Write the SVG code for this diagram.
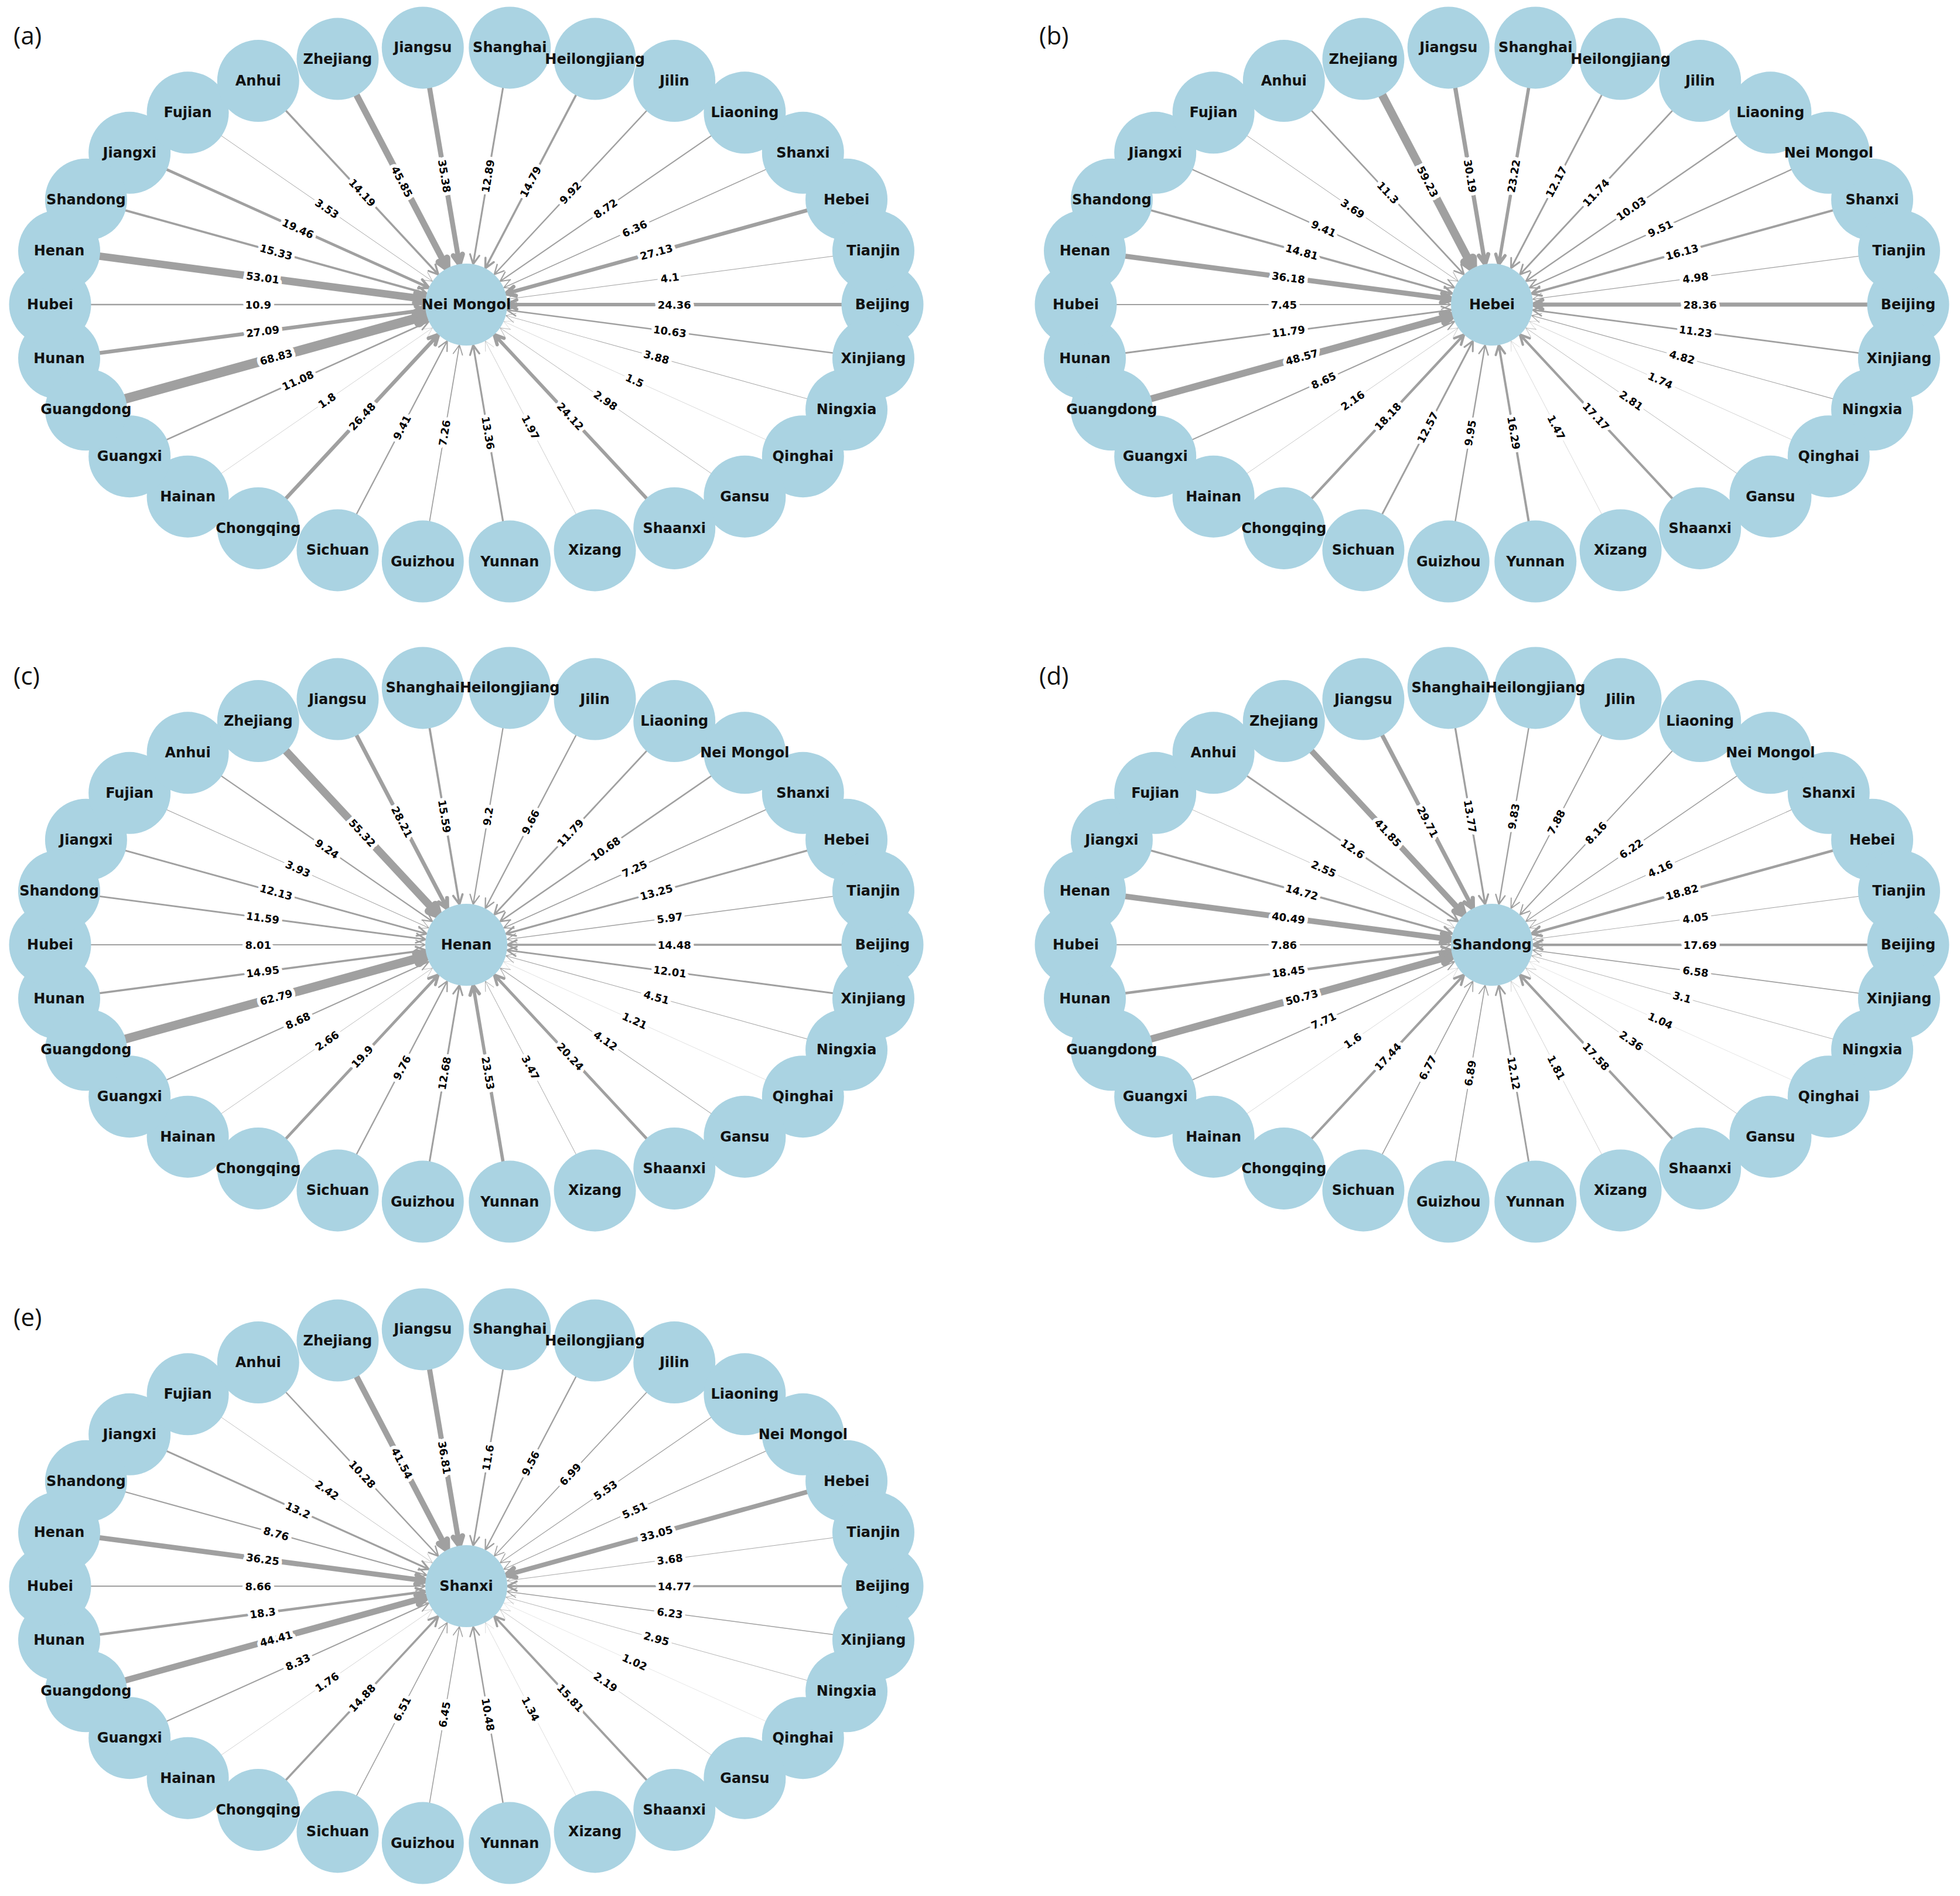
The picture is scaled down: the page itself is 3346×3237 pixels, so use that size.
<svg xmlns="http://www.w3.org/2000/svg" xmlns:xlink="http://www.w3.org/1999/xlink" width="3346" height="3237" viewBox="0 0 3346 3237">
<style>
.e{fill:none;stroke:#a0a0a0;stroke-linejoin:round;stroke-linecap:round}
.lb{font-family:'DejaVu Sans',sans-serif;font-weight:bold;font-size:18px;text-anchor:middle;dominant-baseline:central;fill:#000;stroke:#fff;stroke-width:12px;stroke-linejoin:round;paint-order:stroke}
.n circle{fill:#aad3e2}
.n text{font-family:'DejaVu Sans',sans-serif;font-weight:bold;font-size:24px;text-anchor:middle;dominant-baseline:central;fill:#111}
.pl{font-family:'Open Sans',sans-serif;font-size:42px;fill:#111}
</style>
<defs>
<path id="s0" d="M86-8 70 0 86 8M70 0H710.5"/>
<path id="s1" transform="rotate(7.52)" d="M86-8 70 0 86 8M70 0H701"/>
<path id="s2" transform="rotate(15.45)" d="M86-8 70 0 86 8M70 0H673.4"/>
<path id="s3" transform="rotate(24.27)" d="M86-8 70 0 86 8M70 0H630.6"/>
<path id="s4" transform="rotate(34.58)" d="M86-8 70 0 86 8M70 0H577.4"/>
<path id="s5" transform="rotate(47.07)" d="M86-8 70 0 86 8M70 0H521.6"/>
<path id="s6" transform="rotate(62.36)" d="M86-8 70 0 86 8M70 0H473.4"/>
<path id="s7" transform="rotate(80.39)" d="M86-8 70 0 86 8M70 0H444.8"/>
<path id="s8" transform="rotate(99.61)" d="M86-8 70 0 86 8M70 0H444.8"/>
<path id="s9" transform="rotate(117.64)" d="M86-8 70 0 86 8M70 0H473.4"/>
<path id="s10" transform="rotate(132.93)" d="M86-8 70 0 86 8M70 0H521.6"/>
<path id="s11" transform="rotate(145.42)" d="M86-8 70 0 86 8M70 0H577.4"/>
<path id="s12" transform="rotate(155.73)" d="M86-8 70 0 86 8M70 0H630.6"/>
<path id="s13" transform="rotate(164.55)" d="M86-8 70 0 86 8M70 0H673.4"/>
<path id="s14" transform="rotate(172.48)" d="M86-8 70 0 86 8M70 0H701"/>
<path id="s15" transform="rotate(180)" d="M86-8 70 0 86 8M70 0H710.5"/>
<path id="s16" transform="rotate(-172.48)" d="M86-8 70 0 86 8M70 0H701"/>
<path id="s17" transform="rotate(-164.55)" d="M86-8 70 0 86 8M70 0H673.4"/>
<path id="s18" transform="rotate(-155.73)" d="M86-8 70 0 86 8M70 0H630.6"/>
<path id="s19" transform="rotate(-145.42)" d="M86-8 70 0 86 8M70 0H577.4"/>
<path id="s20" transform="rotate(-132.93)" d="M86-8 70 0 86 8M70 0H521.6"/>
<path id="s21" transform="rotate(-117.64)" d="M86-8 70 0 86 8M70 0H473.4"/>
<path id="s22" transform="rotate(-99.61)" d="M86-8 70 0 86 8M70 0H444.8"/>
<path id="s23" transform="rotate(-80.39)" d="M86-8 70 0 86 8M70 0H444.8"/>
<path id="s24" transform="rotate(-62.36)" d="M86-8 70 0 86 8M70 0H473.4"/>
<path id="s25" transform="rotate(-47.07)" d="M86-8 70 0 86 8M70 0H521.6"/>
<path id="s26" transform="rotate(-34.58)" d="M86-8 70 0 86 8M70 0H577.4"/>
<path id="s27" transform="rotate(-24.27)" d="M86-8 70 0 86 8M70 0H630.6"/>
<path id="s28" transform="rotate(-15.45)" d="M86-8 70 0 86 8M70 0H673.4"/>
<path id="s29" transform="rotate(-7.52)" d="M86-8 70 0 86 8M70 0H701"/>
</defs>
<rect width="3346" height="3237" fill="#fff"/>
<text class="pl" x="23" y="76">(a)</text>
<text class="pl" x="1774" y="76">(b)</text>
<text class="pl" x="23" y="1169">(c)</text>
<text class="pl" x="1774" y="1169">(d)</text>
<text class="pl" x="23" y="2264">(e)</text>

<g id="panel-a" transform="translate(796 520)">
<g id="a-connectors" class="e">
<use href="#s0" stroke-width="5.85"/><use href="#s1" stroke-width="2.55"/><use href="#s2" stroke-width="0.93"/><use href="#s3" stroke-width="0.36"/><use href="#s4" stroke-width="0.72"/><use href="#s5" stroke-width="5.79"/><use href="#s6" stroke-width="0.47"/><use href="#s7" stroke-width="3.21"/><use href="#s8" stroke-width="1.74"/><use href="#s9" stroke-width="2.26"/><use href="#s10" stroke-width="6.36"/><use href="#s11" stroke-width="0.43"/><use href="#s12" stroke-width="2.66"/><use href="#s13" stroke-width="16.52"/><use href="#s14" stroke-width="6.5"/><use href="#s15" stroke-width="2.62"/><use href="#s16" stroke-width="12.72"/><use href="#s17" stroke-width="3.68"/><use href="#s18" stroke-width="4.67"/><use href="#s19" stroke-width="0.85"/><use href="#s20" stroke-width="3.41"/><use href="#s21" stroke-width="11"/><use href="#s22" stroke-width="8.49"/><use href="#s23" stroke-width="3.09"/><use href="#s24" stroke-width="3.55"/><use href="#s25" stroke-width="2.38"/><use href="#s26" stroke-width="2.09"/><use href="#s27" stroke-width="1.53"/><use href="#s28" stroke-width="6.51"/><use href="#s29" stroke-width="0.98"/>
<g class="lbs">
<text class="lb" transform="translate(355.25 0)">24.36</text>
<text class="lb" transform="translate(347.49 45.85) rotate(7.52)">10.63</text>
<text class="lb" transform="translate(324.54 89.69) rotate(15.45)">3.88</text>
<text class="lb" transform="translate(287.41 129.61) rotate(24.27)">1.5</text>
<text class="lb" transform="translate(237.71 163.86) rotate(34.58)">2.98</text>
<text class="lb" transform="translate(177.63 190.96) rotate(47.07)">24.12</text>
<text class="lb" transform="translate(109.78 209.71) rotate(62.36)">1.97</text>
<text class="lb" transform="translate(37.14 219.29) rotate(80.39)">13.36</text>
<text class="lb" transform="translate(-37.14 219.29) rotate(-80.39)">7.26</text>
<text class="lb" transform="translate(-109.78 209.71) rotate(-62.36)">9.41</text>
<text class="lb" transform="translate(-177.63 190.96) rotate(-47.07)">26.48</text>
<text class="lb" transform="translate(-237.71 163.86) rotate(-34.58)">1.8</text>
<text class="lb" transform="translate(-287.41 129.61) rotate(-24.27)">11.08</text>
<text class="lb" transform="translate(-324.54 89.69) rotate(-15.45)">68.83</text>
<text class="lb" transform="translate(-347.49 45.85) rotate(-7.52)">27.09</text>
<text class="lb" transform="translate(-355.25 0)">10.9</text>
<text class="lb" transform="translate(-347.49 -45.85) rotate(7.52)">53.01</text>
<text class="lb" transform="translate(-324.54 -89.69) rotate(15.45)">15.33</text>
<text class="lb" transform="translate(-287.41 -129.61) rotate(24.27)">19.46</text>
<text class="lb" transform="translate(-237.71 -163.86) rotate(34.58)">3.53</text>
<text class="lb" transform="translate(-177.63 -190.96) rotate(47.07)">14.19</text>
<text class="lb" transform="translate(-109.78 -209.71) rotate(62.36)">45.85</text>
<text class="lb" transform="translate(-37.14 -219.29) rotate(80.39)">35.38</text>
<text class="lb" transform="translate(37.14 -219.29) rotate(-80.39)">12.89</text>
<text class="lb" transform="translate(109.78 -209.71) rotate(-62.36)">14.79</text>
<text class="lb" transform="translate(177.63 -190.96) rotate(-47.07)">9.92</text>
<text class="lb" transform="translate(237.71 -163.86) rotate(-34.58)">8.72</text>
<text class="lb" transform="translate(287.41 -129.61) rotate(-24.27)">6.36</text>
<text class="lb" transform="translate(324.54 -89.69) rotate(-15.45)">27.13</text>
<text class="lb" transform="translate(347.49 -45.85) rotate(-7.52)">4.1</text>
</g>
</g>
<g id="a-Beijing" class="n" transform="translate(710.5 0)"><circle r="70"/><text>Beijing</text></g>
<g id="a-Xinjiang" class="n" transform="translate(694.98 91.69)"><circle r="70"/><text>Xinjiang</text></g>
<g id="a-Ningxia" class="n" transform="translate(649.08 179.37)"><circle r="70"/><text>Ningxia</text></g>
<g id="a-Qinghai" class="n" transform="translate(574.81 259.22)"><circle r="70"/><text>Qinghai</text></g>
<g id="a-Gansu" class="n" transform="translate(475.42 327.72)"><circle r="70"/><text>Gansu</text></g>
<g id="a-Shaanxi" class="n" transform="translate(355.25 381.92)"><circle r="70"/><text>Shaanxi</text></g>
<g id="a-Xizang" class="n" transform="translate(219.56 419.42)"><circle r="70"/><text>Xizang</text></g>
<g id="a-Yunnan" class="n" transform="translate(74.27 438.58)"><circle r="70"/><text>Yunnan</text></g>
<g id="a-Guizhou" class="n" transform="translate(-74.27 438.58)"><circle r="70"/><text>Guizhou</text></g>
<g id="a-Sichuan" class="n" transform="translate(-219.56 419.42)"><circle r="70"/><text>Sichuan</text></g>
<g id="a-Hainan" class="n" transform="translate(-475.42 327.72)"><circle r="70"/><text>Hainan</text></g>
<g id="a-Guangxi" class="n" transform="translate(-574.81 259.22)"><circle r="70"/><text>Guangxi</text></g>
<g id="a-Hunan" class="n" transform="translate(-694.98 91.69)"><circle r="70"/><text>Hunan</text></g>
<g id="a-Hubei" class="n" transform="translate(-710.5 0)"><circle r="70"/><text>Hubei</text></g>
<g id="a-Henan" class="n" transform="translate(-694.98 -91.69)"><circle r="70"/><text>Henan</text></g>
<g id="a-Jiangxi" class="n" transform="translate(-574.81 -259.22)"><circle r="70"/><text>Jiangxi</text></g>
<g id="a-Fujian" class="n" transform="translate(-475.42 -327.72)"><circle r="70"/><text>Fujian</text></g>
<g id="a-Anhui" class="n" transform="translate(-355.25 -381.92)"><circle r="70"/><text>Anhui</text></g>
<g id="a-Jiangsu" class="n" transform="translate(-74.27 -438.58)"><circle r="70"/><text>Jiangsu</text></g>
<g id="a-Jilin" class="n" transform="translate(355.25 -381.92)"><circle r="70"/><text>Jilin</text></g>
<g id="a-Shanxi" class="n" transform="translate(574.81 -259.22)"><circle r="70"/><text>Shanxi</text></g>
<g id="a-Hebei" class="n" transform="translate(649.08 -179.37)"><circle r="70"/><text>Hebei</text></g>
<g id="a-Tianjin" class="n" transform="translate(694.98 -91.69)"><circle r="70"/><text>Tianjin</text></g>
<g id="a-Zhejiang" class="n" transform="translate(-219.56 -419.42)"><circle r="70"/><text>Zhejiang</text></g>
<g id="a-Shandong" class="n" transform="translate(-649.08 -179.37)"><circle r="70"/><text>Shandong</text></g>
<g id="a-Shanghai" class="n" transform="translate(74.27 -438.58)"><circle r="70"/><text>Shanghai</text></g>
<g id="a-Liaoning" class="n" transform="translate(475.42 -327.72)"><circle r="70"/><text>Liaoning</text></g>
<g id="a-Chongqing" class="n" transform="translate(-355.25 381.92)"><circle r="70"/><text>Chongqing</text></g>
<g id="a-Guangdong" class="n" transform="translate(-649.08 179.37)"><circle r="70"/><text>Guangdong</text></g>
<g id="a-Heilongjiang" class="n" transform="translate(219.56 -419.42)"><circle r="70"/><text>Heilongjiang</text></g>
<g id="a-Nei-Mongol" class="n"><circle r="70"/><text>Nei Mongol</text></g>
</g>

<g id="panel-b" transform="translate(2547 520)">
<g id="b-connectors" class="e">
<use href="#s0" stroke-width="6.81"/><use href="#s1" stroke-width="2.7"/><use href="#s2" stroke-width="1.16"/><use href="#s3" stroke-width="0.42"/><use href="#s4" stroke-width="0.67"/><use href="#s5" stroke-width="4.12"/><use href="#s6" stroke-width="0.35"/><use href="#s7" stroke-width="3.91"/><use href="#s8" stroke-width="2.39"/><use href="#s9" stroke-width="3.02"/><use href="#s10" stroke-width="4.36"/><use href="#s11" stroke-width="0.52"/><use href="#s12" stroke-width="2.08"/><use href="#s13" stroke-width="11.66"/><use href="#s14" stroke-width="2.83"/><use href="#s15" stroke-width="1.79"/><use href="#s16" stroke-width="8.68"/><use href="#s17" stroke-width="3.55"/><use href="#s18" stroke-width="2.26"/><use href="#s19" stroke-width="0.89"/><use href="#s20" stroke-width="2.71"/><use href="#s21" stroke-width="14.22"/><use href="#s22" stroke-width="7.25"/><use href="#s23" stroke-width="5.57"/><use href="#s24" stroke-width="2.92"/><use href="#s25" stroke-width="2.82"/><use href="#s26" stroke-width="2.41"/><use href="#s27" stroke-width="2.28"/><use href="#s28" stroke-width="3.87"/><use href="#s29" stroke-width="1.2"/>
<g class="lbs">
<text class="lb" transform="translate(355.25 0)">28.36</text>
<text class="lb" transform="translate(347.49 45.85) rotate(7.52)">11.23</text>
<text class="lb" transform="translate(324.54 89.69) rotate(15.45)">4.82</text>
<text class="lb" transform="translate(287.41 129.61) rotate(24.27)">1.74</text>
<text class="lb" transform="translate(237.71 163.86) rotate(34.58)">2.81</text>
<text class="lb" transform="translate(177.63 190.96) rotate(47.07)">17.17</text>
<text class="lb" transform="translate(109.78 209.71) rotate(62.36)">1.47</text>
<text class="lb" transform="translate(37.14 219.29) rotate(80.39)">16.29</text>
<text class="lb" transform="translate(-37.14 219.29) rotate(-80.39)">9.95</text>
<text class="lb" transform="translate(-109.78 209.71) rotate(-62.36)">12.57</text>
<text class="lb" transform="translate(-177.63 190.96) rotate(-47.07)">18.18</text>
<text class="lb" transform="translate(-237.71 163.86) rotate(-34.58)">2.16</text>
<text class="lb" transform="translate(-287.41 129.61) rotate(-24.27)">8.65</text>
<text class="lb" transform="translate(-324.54 89.69) rotate(-15.45)">48.57</text>
<text class="lb" transform="translate(-347.49 45.85) rotate(-7.52)">11.79</text>
<text class="lb" transform="translate(-355.25 0)">7.45</text>
<text class="lb" transform="translate(-347.49 -45.85) rotate(7.52)">36.18</text>
<text class="lb" transform="translate(-324.54 -89.69) rotate(15.45)">14.81</text>
<text class="lb" transform="translate(-287.41 -129.61) rotate(24.27)">9.41</text>
<text class="lb" transform="translate(-237.71 -163.86) rotate(34.58)">3.69</text>
<text class="lb" transform="translate(-177.63 -190.96) rotate(47.07)">11.3</text>
<text class="lb" transform="translate(-109.78 -209.71) rotate(62.36)">59.23</text>
<text class="lb" transform="translate(-37.14 -219.29) rotate(80.39)">30.19</text>
<text class="lb" transform="translate(37.14 -219.29) rotate(-80.39)">23.22</text>
<text class="lb" transform="translate(109.78 -209.71) rotate(-62.36)">12.17</text>
<text class="lb" transform="translate(177.63 -190.96) rotate(-47.07)">11.74</text>
<text class="lb" transform="translate(237.71 -163.86) rotate(-34.58)">10.03</text>
<text class="lb" transform="translate(287.41 -129.61) rotate(-24.27)">9.51</text>
<text class="lb" transform="translate(324.54 -89.69) rotate(-15.45)">16.13</text>
<text class="lb" transform="translate(347.49 -45.85) rotate(-7.52)">4.98</text>
</g>
</g>
<g id="b-Beijing" class="n" transform="translate(710.5 0)"><circle r="70"/><text>Beijing</text></g>
<g id="b-Xinjiang" class="n" transform="translate(694.98 91.69)"><circle r="70"/><text>Xinjiang</text></g>
<g id="b-Ningxia" class="n" transform="translate(649.08 179.37)"><circle r="70"/><text>Ningxia</text></g>
<g id="b-Qinghai" class="n" transform="translate(574.81 259.22)"><circle r="70"/><text>Qinghai</text></g>
<g id="b-Gansu" class="n" transform="translate(475.42 327.72)"><circle r="70"/><text>Gansu</text></g>
<g id="b-Shaanxi" class="n" transform="translate(355.25 381.92)"><circle r="70"/><text>Shaanxi</text></g>
<g id="b-Xizang" class="n" transform="translate(219.56 419.42)"><circle r="70"/><text>Xizang</text></g>
<g id="b-Yunnan" class="n" transform="translate(74.27 438.58)"><circle r="70"/><text>Yunnan</text></g>
<g id="b-Guizhou" class="n" transform="translate(-74.27 438.58)"><circle r="70"/><text>Guizhou</text></g>
<g id="b-Sichuan" class="n" transform="translate(-219.56 419.42)"><circle r="70"/><text>Sichuan</text></g>
<g id="b-Hainan" class="n" transform="translate(-475.42 327.72)"><circle r="70"/><text>Hainan</text></g>
<g id="b-Guangxi" class="n" transform="translate(-574.81 259.22)"><circle r="70"/><text>Guangxi</text></g>
<g id="b-Hunan" class="n" transform="translate(-694.98 91.69)"><circle r="70"/><text>Hunan</text></g>
<g id="b-Hubei" class="n" transform="translate(-710.5 0)"><circle r="70"/><text>Hubei</text></g>
<g id="b-Henan" class="n" transform="translate(-694.98 -91.69)"><circle r="70"/><text>Henan</text></g>
<g id="b-Jiangxi" class="n" transform="translate(-574.81 -259.22)"><circle r="70"/><text>Jiangxi</text></g>
<g id="b-Fujian" class="n" transform="translate(-475.42 -327.72)"><circle r="70"/><text>Fujian</text></g>
<g id="b-Anhui" class="n" transform="translate(-355.25 -381.92)"><circle r="70"/><text>Anhui</text></g>
<g id="b-Jiangsu" class="n" transform="translate(-74.27 -438.58)"><circle r="70"/><text>Jiangsu</text></g>
<g id="b-Jilin" class="n" transform="translate(355.25 -381.92)"><circle r="70"/><text>Jilin</text></g>
<g id="b-Shanxi" class="n" transform="translate(649.08 -179.37)"><circle r="70"/><text>Shanxi</text></g>
<g id="b-Tianjin" class="n" transform="translate(694.98 -91.69)"><circle r="70"/><text>Tianjin</text></g>
<g id="b-Zhejiang" class="n" transform="translate(-219.56 -419.42)"><circle r="70"/><text>Zhejiang</text></g>
<g id="b-Shandong" class="n" transform="translate(-649.08 -179.37)"><circle r="70"/><text>Shandong</text></g>
<g id="b-Shanghai" class="n" transform="translate(74.27 -438.58)"><circle r="70"/><text>Shanghai</text></g>
<g id="b-Liaoning" class="n" transform="translate(475.42 -327.72)"><circle r="70"/><text>Liaoning</text></g>
<g id="b-Chongqing" class="n" transform="translate(-355.25 381.92)"><circle r="70"/><text>Chongqing</text></g>
<g id="b-Guangdong" class="n" transform="translate(-649.08 179.37)"><circle r="70"/><text>Guangdong</text></g>
<g id="b-Nei-Mongol" class="n" transform="translate(574.81 -259.22)"><circle r="70"/><text>Nei Mongol</text></g>
<g id="b-Heilongjiang" class="n" transform="translate(219.56 -419.42)"><circle r="70"/><text>Heilongjiang</text></g>
<g id="b-Hebei" class="n"><circle r="70"/><text>Hebei</text></g>
</g>

<g id="panel-c" transform="translate(796 1613)">
<g id="c-connectors" class="e">
<use href="#s0" stroke-width="3.48"/><use href="#s1" stroke-width="2.88"/><use href="#s2" stroke-width="1.08"/><use href="#s3" stroke-width="0.29"/><use href="#s4" stroke-width="0.99"/><use href="#s5" stroke-width="4.86"/><use href="#s6" stroke-width="0.83"/><use href="#s7" stroke-width="5.65"/><use href="#s8" stroke-width="3.04"/><use href="#s9" stroke-width="2.34"/><use href="#s10" stroke-width="4.78"/><use href="#s11" stroke-width="0.64"/><use href="#s12" stroke-width="2.08"/><use href="#s13" stroke-width="15.07"/><use href="#s14" stroke-width="3.59"/><use href="#s15" stroke-width="1.92"/><use href="#s16" stroke-width="2.78"/><use href="#s17" stroke-width="2.91"/><use href="#s18" stroke-width="0.94"/><use href="#s19" stroke-width="2.22"/><use href="#s20" stroke-width="13.28"/><use href="#s21" stroke-width="6.77"/><use href="#s22" stroke-width="3.74"/><use href="#s23" stroke-width="2.21"/><use href="#s24" stroke-width="2.32"/><use href="#s25" stroke-width="2.83"/><use href="#s26" stroke-width="2.56"/><use href="#s27" stroke-width="1.74"/><use href="#s28" stroke-width="3.18"/><use href="#s29" stroke-width="1.43"/>
<g class="lbs">
<text class="lb" transform="translate(355.25 0)">14.48</text>
<text class="lb" transform="translate(347.49 45.85) rotate(7.52)">12.01</text>
<text class="lb" transform="translate(324.54 89.69) rotate(15.45)">4.51</text>
<text class="lb" transform="translate(287.41 129.61) rotate(24.27)">1.21</text>
<text class="lb" transform="translate(237.71 163.86) rotate(34.58)">4.12</text>
<text class="lb" transform="translate(177.63 190.96) rotate(47.07)">20.24</text>
<text class="lb" transform="translate(109.78 209.71) rotate(62.36)">3.47</text>
<text class="lb" transform="translate(37.14 219.29) rotate(80.39)">23.53</text>
<text class="lb" transform="translate(-37.14 219.29) rotate(-80.39)">12.68</text>
<text class="lb" transform="translate(-109.78 209.71) rotate(-62.36)">9.76</text>
<text class="lb" transform="translate(-177.63 190.96) rotate(-47.07)">19.9</text>
<text class="lb" transform="translate(-237.71 163.86) rotate(-34.58)">2.66</text>
<text class="lb" transform="translate(-287.41 129.61) rotate(-24.27)">8.68</text>
<text class="lb" transform="translate(-324.54 89.69) rotate(-15.45)">62.79</text>
<text class="lb" transform="translate(-347.49 45.85) rotate(-7.52)">14.95</text>
<text class="lb" transform="translate(-355.25 0)">8.01</text>
<text class="lb" transform="translate(-347.49 -45.85) rotate(7.52)">11.59</text>
<text class="lb" transform="translate(-324.54 -89.69) rotate(15.45)">12.13</text>
<text class="lb" transform="translate(-287.41 -129.61) rotate(24.27)">3.93</text>
<text class="lb" transform="translate(-237.71 -163.86) rotate(34.58)">9.24</text>
<text class="lb" transform="translate(-177.63 -190.96) rotate(47.07)">55.32</text>
<text class="lb" transform="translate(-109.78 -209.71) rotate(62.36)">28.21</text>
<text class="lb" transform="translate(-37.14 -219.29) rotate(80.39)">15.59</text>
<text class="lb" transform="translate(37.14 -219.29) rotate(-80.39)">9.2</text>
<text class="lb" transform="translate(109.78 -209.71) rotate(-62.36)">9.66</text>
<text class="lb" transform="translate(177.63 -190.96) rotate(-47.07)">11.79</text>
<text class="lb" transform="translate(237.71 -163.86) rotate(-34.58)">10.68</text>
<text class="lb" transform="translate(287.41 -129.61) rotate(-24.27)">7.25</text>
<text class="lb" transform="translate(324.54 -89.69) rotate(-15.45)">13.25</text>
<text class="lb" transform="translate(347.49 -45.85) rotate(-7.52)">5.97</text>
</g>
</g>
<g id="c-Beijing" class="n" transform="translate(710.5 0)"><circle r="70"/><text>Beijing</text></g>
<g id="c-Xinjiang" class="n" transform="translate(694.98 91.69)"><circle r="70"/><text>Xinjiang</text></g>
<g id="c-Ningxia" class="n" transform="translate(649.08 179.37)"><circle r="70"/><text>Ningxia</text></g>
<g id="c-Qinghai" class="n" transform="translate(574.81 259.22)"><circle r="70"/><text>Qinghai</text></g>
<g id="c-Gansu" class="n" transform="translate(475.42 327.72)"><circle r="70"/><text>Gansu</text></g>
<g id="c-Shaanxi" class="n" transform="translate(355.25 381.92)"><circle r="70"/><text>Shaanxi</text></g>
<g id="c-Xizang" class="n" transform="translate(219.56 419.42)"><circle r="70"/><text>Xizang</text></g>
<g id="c-Yunnan" class="n" transform="translate(74.27 438.58)"><circle r="70"/><text>Yunnan</text></g>
<g id="c-Guizhou" class="n" transform="translate(-74.27 438.58)"><circle r="70"/><text>Guizhou</text></g>
<g id="c-Sichuan" class="n" transform="translate(-219.56 419.42)"><circle r="70"/><text>Sichuan</text></g>
<g id="c-Hainan" class="n" transform="translate(-475.42 327.72)"><circle r="70"/><text>Hainan</text></g>
<g id="c-Guangxi" class="n" transform="translate(-574.81 259.22)"><circle r="70"/><text>Guangxi</text></g>
<g id="c-Hunan" class="n" transform="translate(-694.98 91.69)"><circle r="70"/><text>Hunan</text></g>
<g id="c-Hubei" class="n" transform="translate(-710.5 0)"><circle r="70"/><text>Hubei</text></g>
<g id="c-Jiangxi" class="n" transform="translate(-649.08 -179.37)"><circle r="70"/><text>Jiangxi</text></g>
<g id="c-Fujian" class="n" transform="translate(-574.81 -259.22)"><circle r="70"/><text>Fujian</text></g>
<g id="c-Anhui" class="n" transform="translate(-475.42 -327.72)"><circle r="70"/><text>Anhui</text></g>
<g id="c-Jiangsu" class="n" transform="translate(-219.56 -419.42)"><circle r="70"/><text>Jiangsu</text></g>
<g id="c-Jilin" class="n" transform="translate(219.56 -419.42)"><circle r="70"/><text>Jilin</text></g>
<g id="c-Shanxi" class="n" transform="translate(574.81 -259.22)"><circle r="70"/><text>Shanxi</text></g>
<g id="c-Hebei" class="n" transform="translate(649.08 -179.37)"><circle r="70"/><text>Hebei</text></g>
<g id="c-Tianjin" class="n" transform="translate(694.98 -91.69)"><circle r="70"/><text>Tianjin</text></g>
<g id="c-Shandong" class="n" transform="translate(-694.98 -91.69)"><circle r="70"/><text>Shandong</text></g>
<g id="c-Zhejiang" class="n" transform="translate(-355.25 -381.92)"><circle r="70"/><text>Zhejiang</text></g>
<g id="c-Liaoning" class="n" transform="translate(355.25 -381.92)"><circle r="70"/><text>Liaoning</text></g>
<g id="c-Chongqing" class="n" transform="translate(-355.25 381.92)"><circle r="70"/><text>Chongqing</text></g>
<g id="c-Guangdong" class="n" transform="translate(-649.08 179.37)"><circle r="70"/><text>Guangdong</text></g>
<g id="c-Nei-Mongol" class="n" transform="translate(475.42 -327.72)"><circle r="70"/><text>Nei Mongol</text></g>
<g id="c-Shanghai" class="n" transform="translate(-74.27 -438.58)"><circle r="70"/><text>Shanghai</text></g>
<g id="c-Heilongjiang" class="n" transform="translate(74.27 -438.58)"><circle r="70"/><text>Heilongjiang</text></g>
<g id="c-Henan" class="n"><circle r="70"/><text>Henan</text></g>
</g>

<g id="panel-d" transform="translate(2547 1613)">
<g id="d-connectors" class="e">
<use href="#s0" stroke-width="4.25"/><use href="#s1" stroke-width="1.58"/><use href="#s2" stroke-width="0.74"/><use href="#s3" stroke-width="0.25"/><use href="#s4" stroke-width="0.57"/><use href="#s5" stroke-width="4.22"/><use href="#s6" stroke-width="0.43"/><use href="#s7" stroke-width="2.91"/><use href="#s8" stroke-width="1.65"/><use href="#s9" stroke-width="1.62"/><use href="#s10" stroke-width="4.19"/><use href="#s11" stroke-width="0.38"/><use href="#s12" stroke-width="1.85"/><use href="#s13" stroke-width="12.18"/><use href="#s14" stroke-width="4.43"/><use href="#s15" stroke-width="1.89"/><use href="#s16" stroke-width="9.72"/><use href="#s17" stroke-width="3.53"/><use href="#s18" stroke-width="0.61"/><use href="#s19" stroke-width="3.02"/><use href="#s20" stroke-width="10.04"/><use href="#s21" stroke-width="7.13"/><use href="#s22" stroke-width="3.3"/><use href="#s23" stroke-width="2.36"/><use href="#s24" stroke-width="1.89"/><use href="#s25" stroke-width="1.96"/><use href="#s26" stroke-width="1.49"/><use href="#s27" stroke-width="1"/><use href="#s28" stroke-width="4.52"/><use href="#s29" stroke-width="0.97"/>
<g class="lbs">
<text class="lb" transform="translate(355.25 0)">17.69</text>
<text class="lb" transform="translate(347.49 45.85) rotate(7.52)">6.58</text>
<text class="lb" transform="translate(324.54 89.69) rotate(15.45)">3.1</text>
<text class="lb" transform="translate(287.41 129.61) rotate(24.27)">1.04</text>
<text class="lb" transform="translate(237.71 163.86) rotate(34.58)">2.36</text>
<text class="lb" transform="translate(177.63 190.96) rotate(47.07)">17.58</text>
<text class="lb" transform="translate(109.78 209.71) rotate(62.36)">1.81</text>
<text class="lb" transform="translate(37.14 219.29) rotate(80.39)">12.12</text>
<text class="lb" transform="translate(-37.14 219.29) rotate(-80.39)">6.89</text>
<text class="lb" transform="translate(-109.78 209.71) rotate(-62.36)">6.77</text>
<text class="lb" transform="translate(-177.63 190.96) rotate(-47.07)">17.44</text>
<text class="lb" transform="translate(-237.71 163.86) rotate(-34.58)">1.6</text>
<text class="lb" transform="translate(-287.41 129.61) rotate(-24.27)">7.71</text>
<text class="lb" transform="translate(-324.54 89.69) rotate(-15.45)">50.73</text>
<text class="lb" transform="translate(-347.49 45.85) rotate(-7.52)">18.45</text>
<text class="lb" transform="translate(-355.25 0)">7.86</text>
<text class="lb" transform="translate(-347.49 -45.85) rotate(7.52)">40.49</text>
<text class="lb" transform="translate(-324.54 -89.69) rotate(15.45)">14.72</text>
<text class="lb" transform="translate(-287.41 -129.61) rotate(24.27)">2.55</text>
<text class="lb" transform="translate(-237.71 -163.86) rotate(34.58)">12.6</text>
<text class="lb" transform="translate(-177.63 -190.96) rotate(47.07)">41.85</text>
<text class="lb" transform="translate(-109.78 -209.71) rotate(62.36)">29.71</text>
<text class="lb" transform="translate(-37.14 -219.29) rotate(80.39)">13.77</text>
<text class="lb" transform="translate(37.14 -219.29) rotate(-80.39)">9.83</text>
<text class="lb" transform="translate(109.78 -209.71) rotate(-62.36)">7.88</text>
<text class="lb" transform="translate(177.63 -190.96) rotate(-47.07)">8.16</text>
<text class="lb" transform="translate(237.71 -163.86) rotate(-34.58)">6.22</text>
<text class="lb" transform="translate(287.41 -129.61) rotate(-24.27)">4.16</text>
<text class="lb" transform="translate(324.54 -89.69) rotate(-15.45)">18.82</text>
<text class="lb" transform="translate(347.49 -45.85) rotate(-7.52)">4.05</text>
</g>
</g>
<g id="d-Beijing" class="n" transform="translate(710.5 0)"><circle r="70"/><text>Beijing</text></g>
<g id="d-Xinjiang" class="n" transform="translate(694.98 91.69)"><circle r="70"/><text>Xinjiang</text></g>
<g id="d-Ningxia" class="n" transform="translate(649.08 179.37)"><circle r="70"/><text>Ningxia</text></g>
<g id="d-Qinghai" class="n" transform="translate(574.81 259.22)"><circle r="70"/><text>Qinghai</text></g>
<g id="d-Gansu" class="n" transform="translate(475.42 327.72)"><circle r="70"/><text>Gansu</text></g>
<g id="d-Shaanxi" class="n" transform="translate(355.25 381.92)"><circle r="70"/><text>Shaanxi</text></g>
<g id="d-Xizang" class="n" transform="translate(219.56 419.42)"><circle r="70"/><text>Xizang</text></g>
<g id="d-Yunnan" class="n" transform="translate(74.27 438.58)"><circle r="70"/><text>Yunnan</text></g>
<g id="d-Guizhou" class="n" transform="translate(-74.27 438.58)"><circle r="70"/><text>Guizhou</text></g>
<g id="d-Sichuan" class="n" transform="translate(-219.56 419.42)"><circle r="70"/><text>Sichuan</text></g>
<g id="d-Hainan" class="n" transform="translate(-475.42 327.72)"><circle r="70"/><text>Hainan</text></g>
<g id="d-Guangxi" class="n" transform="translate(-574.81 259.22)"><circle r="70"/><text>Guangxi</text></g>
<g id="d-Hunan" class="n" transform="translate(-694.98 91.69)"><circle r="70"/><text>Hunan</text></g>
<g id="d-Hubei" class="n" transform="translate(-710.5 0)"><circle r="70"/><text>Hubei</text></g>
<g id="d-Henan" class="n" transform="translate(-694.98 -91.69)"><circle r="70"/><text>Henan</text></g>
<g id="d-Jiangxi" class="n" transform="translate(-649.08 -179.37)"><circle r="70"/><text>Jiangxi</text></g>
<g id="d-Fujian" class="n" transform="translate(-574.81 -259.22)"><circle r="70"/><text>Fujian</text></g>
<g id="d-Anhui" class="n" transform="translate(-475.42 -327.72)"><circle r="70"/><text>Anhui</text></g>
<g id="d-Jiangsu" class="n" transform="translate(-219.56 -419.42)"><circle r="70"/><text>Jiangsu</text></g>
<g id="d-Jilin" class="n" transform="translate(219.56 -419.42)"><circle r="70"/><text>Jilin</text></g>
<g id="d-Shanxi" class="n" transform="translate(574.81 -259.22)"><circle r="70"/><text>Shanxi</text></g>
<g id="d-Hebei" class="n" transform="translate(649.08 -179.37)"><circle r="70"/><text>Hebei</text></g>
<g id="d-Tianjin" class="n" transform="translate(694.98 -91.69)"><circle r="70"/><text>Tianjin</text></g>
<g id="d-Zhejiang" class="n" transform="translate(-355.25 -381.92)"><circle r="70"/><text>Zhejiang</text></g>
<g id="d-Liaoning" class="n" transform="translate(355.25 -381.92)"><circle r="70"/><text>Liaoning</text></g>
<g id="d-Chongqing" class="n" transform="translate(-355.25 381.92)"><circle r="70"/><text>Chongqing</text></g>
<g id="d-Guangdong" class="n" transform="translate(-649.08 179.37)"><circle r="70"/><text>Guangdong</text></g>
<g id="d-Nei-Mongol" class="n" transform="translate(475.42 -327.72)"><circle r="70"/><text>Nei Mongol</text></g>
<g id="d-Shanghai" class="n" transform="translate(-74.27 -438.58)"><circle r="70"/><text>Shanghai</text></g>
<g id="d-Heilongjiang" class="n" transform="translate(74.27 -438.58)"><circle r="70"/><text>Heilongjiang</text></g>
<g id="d-Shandong" class="n"><circle r="70"/><text>Shandong</text></g>
</g>

<g id="panel-e" transform="translate(796 2708)">
<g id="e-connectors" class="e">
<use href="#s0" stroke-width="3.54"/><use href="#s1" stroke-width="1.5"/><use href="#s2" stroke-width="0.71"/><use href="#s3" stroke-width="0.24"/><use href="#s4" stroke-width="0.53"/><use href="#s5" stroke-width="3.79"/><use href="#s6" stroke-width="0.32"/><use href="#s7" stroke-width="2.52"/><use href="#s8" stroke-width="1.55"/><use href="#s9" stroke-width="1.56"/><use href="#s10" stroke-width="3.57"/><use href="#s11" stroke-width="0.42"/><use href="#s12" stroke-width="2"/><use href="#s13" stroke-width="10.66"/><use href="#s14" stroke-width="4.39"/><use href="#s15" stroke-width="2.08"/><use href="#s16" stroke-width="8.7"/><use href="#s17" stroke-width="2.1"/><use href="#s18" stroke-width="3.17"/><use href="#s19" stroke-width="0.58"/><use href="#s20" stroke-width="2.47"/><use href="#s21" stroke-width="9.97"/><use href="#s22" stroke-width="8.83"/><use href="#s23" stroke-width="2.78"/><use href="#s24" stroke-width="2.29"/><use href="#s25" stroke-width="1.68"/><use href="#s26" stroke-width="1.33"/><use href="#s27" stroke-width="1.32"/><use href="#s28" stroke-width="7.93"/><use href="#s29" stroke-width="0.88"/>
<g class="lbs">
<text class="lb" transform="translate(355.25 0)">14.77</text>
<text class="lb" transform="translate(347.49 45.85) rotate(7.52)">6.23</text>
<text class="lb" transform="translate(324.54 89.69) rotate(15.45)">2.95</text>
<text class="lb" transform="translate(287.41 129.61) rotate(24.27)">1.02</text>
<text class="lb" transform="translate(237.71 163.86) rotate(34.58)">2.19</text>
<text class="lb" transform="translate(177.63 190.96) rotate(47.07)">15.81</text>
<text class="lb" transform="translate(109.78 209.71) rotate(62.36)">1.34</text>
<text class="lb" transform="translate(37.14 219.29) rotate(80.39)">10.48</text>
<text class="lb" transform="translate(-37.14 219.29) rotate(-80.39)">6.45</text>
<text class="lb" transform="translate(-109.78 209.71) rotate(-62.36)">6.51</text>
<text class="lb" transform="translate(-177.63 190.96) rotate(-47.07)">14.88</text>
<text class="lb" transform="translate(-237.71 163.86) rotate(-34.58)">1.76</text>
<text class="lb" transform="translate(-287.41 129.61) rotate(-24.27)">8.33</text>
<text class="lb" transform="translate(-324.54 89.69) rotate(-15.45)">44.41</text>
<text class="lb" transform="translate(-347.49 45.85) rotate(-7.52)">18.3</text>
<text class="lb" transform="translate(-355.25 0)">8.66</text>
<text class="lb" transform="translate(-347.49 -45.85) rotate(7.52)">36.25</text>
<text class="lb" transform="translate(-324.54 -89.69) rotate(15.45)">8.76</text>
<text class="lb" transform="translate(-287.41 -129.61) rotate(24.27)">13.2</text>
<text class="lb" transform="translate(-237.71 -163.86) rotate(34.58)">2.42</text>
<text class="lb" transform="translate(-177.63 -190.96) rotate(47.07)">10.28</text>
<text class="lb" transform="translate(-109.78 -209.71) rotate(62.36)">41.54</text>
<text class="lb" transform="translate(-37.14 -219.29) rotate(80.39)">36.81</text>
<text class="lb" transform="translate(37.14 -219.29) rotate(-80.39)">11.6</text>
<text class="lb" transform="translate(109.78 -209.71) rotate(-62.36)">9.56</text>
<text class="lb" transform="translate(177.63 -190.96) rotate(-47.07)">6.99</text>
<text class="lb" transform="translate(237.71 -163.86) rotate(-34.58)">5.53</text>
<text class="lb" transform="translate(287.41 -129.61) rotate(-24.27)">5.51</text>
<text class="lb" transform="translate(324.54 -89.69) rotate(-15.45)">33.05</text>
<text class="lb" transform="translate(347.49 -45.85) rotate(-7.52)">3.68</text>
</g>
</g>
<g id="e-Beijing" class="n" transform="translate(710.5 0)"><circle r="70"/><text>Beijing</text></g>
<g id="e-Xinjiang" class="n" transform="translate(694.98 91.69)"><circle r="70"/><text>Xinjiang</text></g>
<g id="e-Ningxia" class="n" transform="translate(649.08 179.37)"><circle r="70"/><text>Ningxia</text></g>
<g id="e-Qinghai" class="n" transform="translate(574.81 259.22)"><circle r="70"/><text>Qinghai</text></g>
<g id="e-Gansu" class="n" transform="translate(475.42 327.72)"><circle r="70"/><text>Gansu</text></g>
<g id="e-Shaanxi" class="n" transform="translate(355.25 381.92)"><circle r="70"/><text>Shaanxi</text></g>
<g id="e-Xizang" class="n" transform="translate(219.56 419.42)"><circle r="70"/><text>Xizang</text></g>
<g id="e-Yunnan" class="n" transform="translate(74.27 438.58)"><circle r="70"/><text>Yunnan</text></g>
<g id="e-Guizhou" class="n" transform="translate(-74.27 438.58)"><circle r="70"/><text>Guizhou</text></g>
<g id="e-Sichuan" class="n" transform="translate(-219.56 419.42)"><circle r="70"/><text>Sichuan</text></g>
<g id="e-Hainan" class="n" transform="translate(-475.42 327.72)"><circle r="70"/><text>Hainan</text></g>
<g id="e-Guangxi" class="n" transform="translate(-574.81 259.22)"><circle r="70"/><text>Guangxi</text></g>
<g id="e-Hunan" class="n" transform="translate(-694.98 91.69)"><circle r="70"/><text>Hunan</text></g>
<g id="e-Hubei" class="n" transform="translate(-710.5 0)"><circle r="70"/><text>Hubei</text></g>
<g id="e-Henan" class="n" transform="translate(-694.98 -91.69)"><circle r="70"/><text>Henan</text></g>
<g id="e-Jiangxi" class="n" transform="translate(-574.81 -259.22)"><circle r="70"/><text>Jiangxi</text></g>
<g id="e-Fujian" class="n" transform="translate(-475.42 -327.72)"><circle r="70"/><text>Fujian</text></g>
<g id="e-Anhui" class="n" transform="translate(-355.25 -381.92)"><circle r="70"/><text>Anhui</text></g>
<g id="e-Jiangsu" class="n" transform="translate(-74.27 -438.58)"><circle r="70"/><text>Jiangsu</text></g>
<g id="e-Jilin" class="n" transform="translate(355.25 -381.92)"><circle r="70"/><text>Jilin</text></g>
<g id="e-Hebei" class="n" transform="translate(649.08 -179.37)"><circle r="70"/><text>Hebei</text></g>
<g id="e-Tianjin" class="n" transform="translate(694.98 -91.69)"><circle r="70"/><text>Tianjin</text></g>
<g id="e-Zhejiang" class="n" transform="translate(-219.56 -419.42)"><circle r="70"/><text>Zhejiang</text></g>
<g id="e-Shandong" class="n" transform="translate(-649.08 -179.37)"><circle r="70"/><text>Shandong</text></g>
<g id="e-Shanghai" class="n" transform="translate(74.27 -438.58)"><circle r="70"/><text>Shanghai</text></g>
<g id="e-Liaoning" class="n" transform="translate(475.42 -327.72)"><circle r="70"/><text>Liaoning</text></g>
<g id="e-Chongqing" class="n" transform="translate(-355.25 381.92)"><circle r="70"/><text>Chongqing</text></g>
<g id="e-Guangdong" class="n" transform="translate(-649.08 179.37)"><circle r="70"/><text>Guangdong</text></g>
<g id="e-Nei-Mongol" class="n" transform="translate(574.81 -259.22)"><circle r="70"/><text>Nei Mongol</text></g>
<g id="e-Heilongjiang" class="n" transform="translate(219.56 -419.42)"><circle r="70"/><text>Heilongjiang</text></g>
<g id="e-Shanxi" class="n"><circle r="70"/><text>Shanxi</text></g>
</g>
</svg>
